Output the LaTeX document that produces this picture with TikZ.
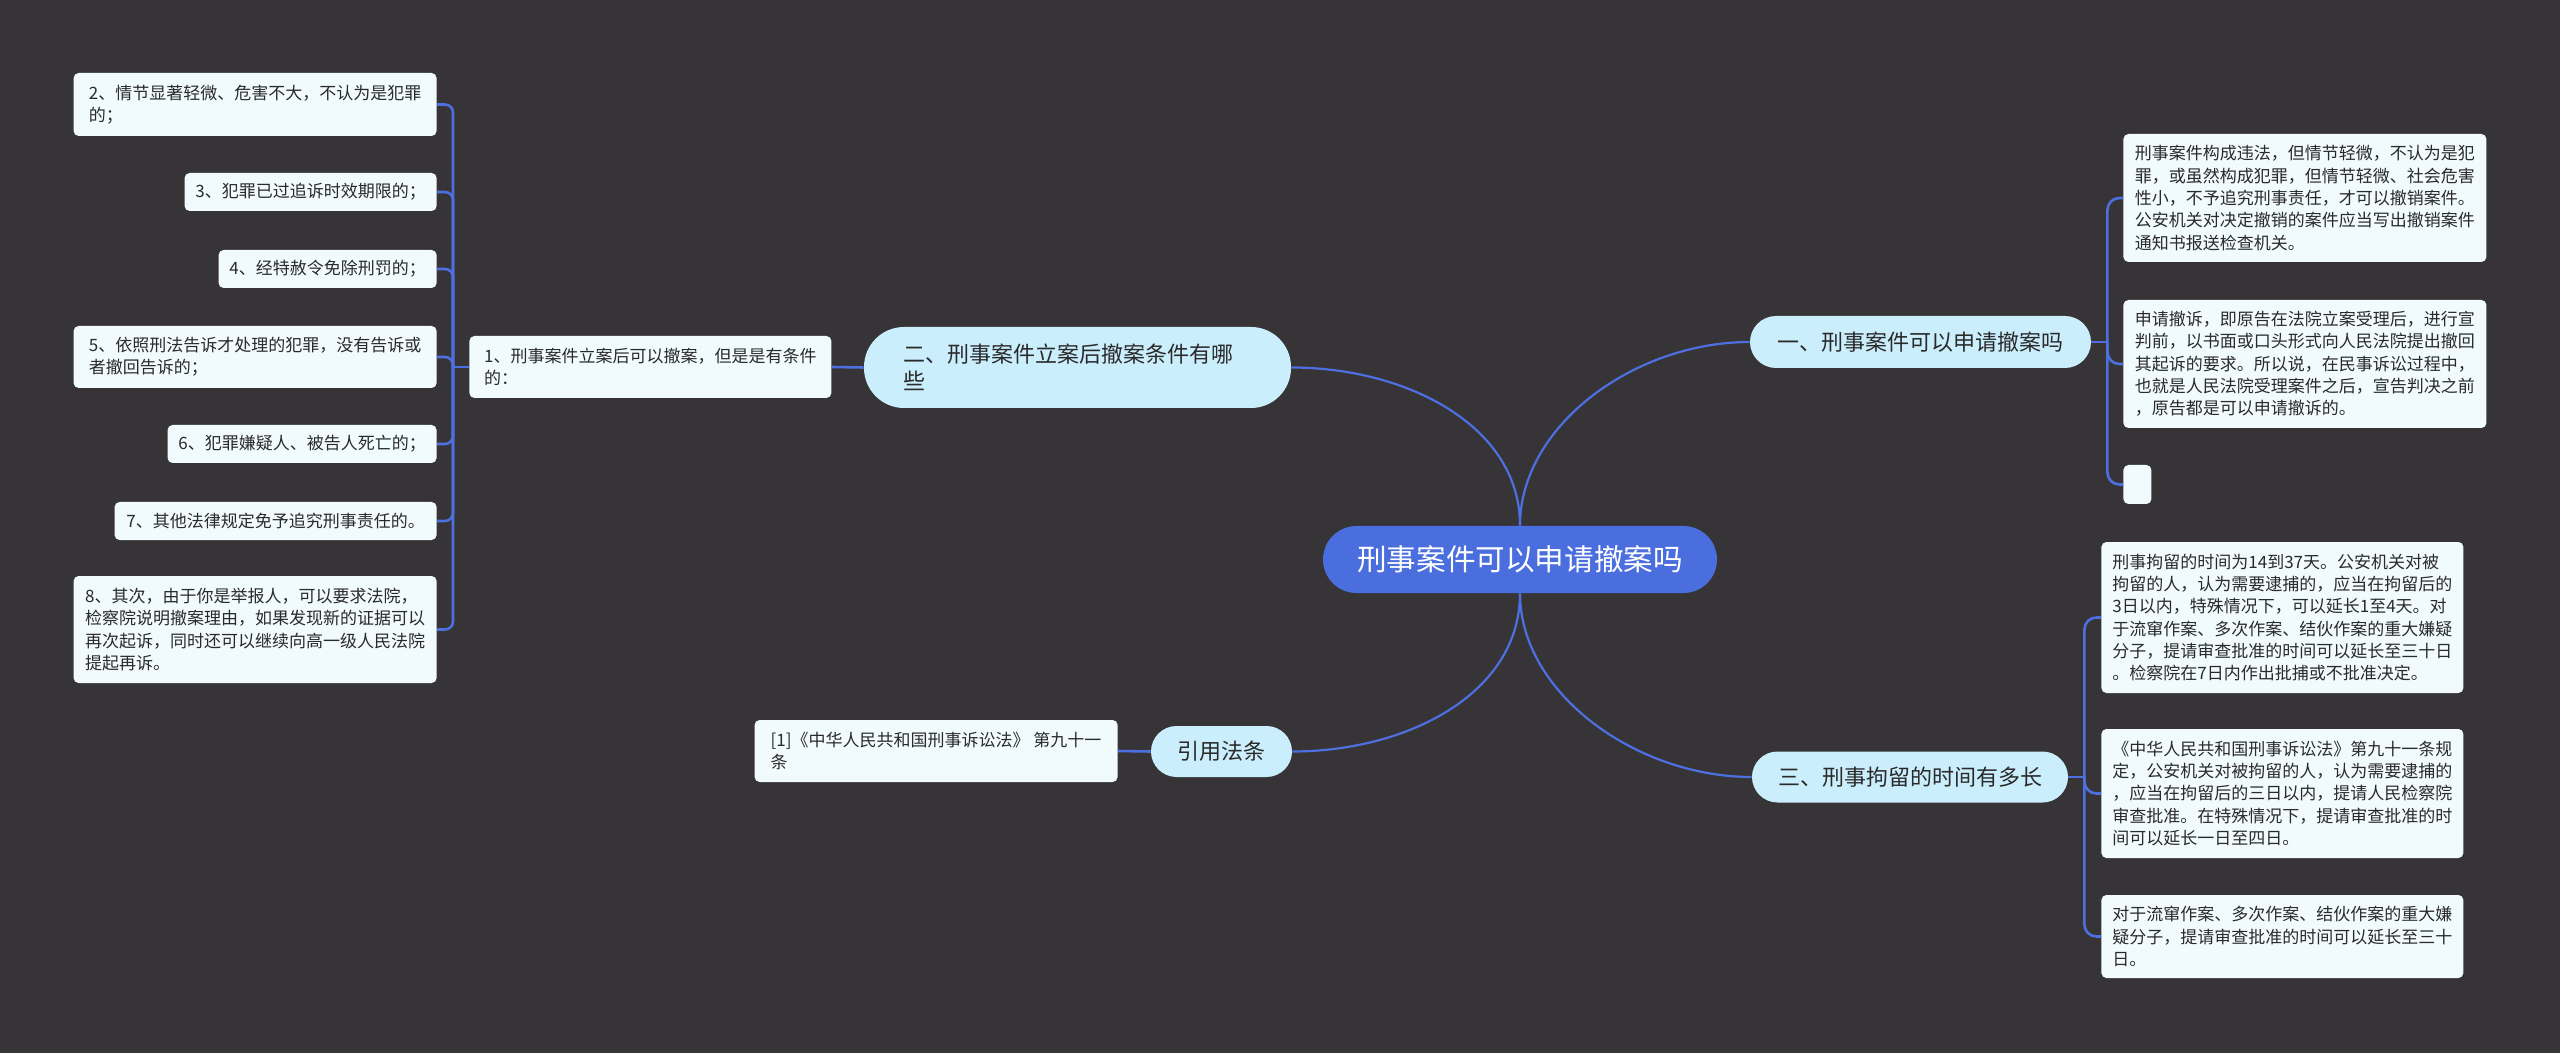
\documentclass[tikz,border=0pt]{standalone}
\usepackage{fontspec}
\setmainfont{Noto Sans CJK SC}
\usetikzlibrary{calc}
\definecolor{bgc}{HTML}{363436}
\definecolor{linec}{HTML}{4D6FDF}
\definecolor{cfill}{HTML}{4A6EDE}
\definecolor{bfill}{HTML}{CBEEFC}
\definecolor{lfill}{HTML}{F1FBFD}
\definecolor{tdark}{HTML}{2A2A2A}
\begin{document}
\begin{tikzpicture}[x=0.5pt,y=-0.5pt,
  central/.style={fill=cfill,text=white,rounded corners=16.75pt,inner sep=0pt,
    font=\fontsize{14.8pt}{18pt}\selectfont},
  branch/.style={fill=bfill,text=tdark,inner sep=0pt,
    font=\fontsize{11pt}{13.5pt}\selectfont},
  leaf/.style={fill=lfill,text=tdark,rounded corners=2.5pt,inner xsep=3pt,inner ysep=0pt,
    align=left,font=\fontsize{8.5pt}{11.15pt}\selectfont},
  conn/.style={draw=linec,line width=1.1pt},
  brk/.style={draw=linec,line width=1.3pt}
]
\fill[bgc] (0,0) rectangle (2560,1053);
\useasboundingbox (0,0) rectangle (2560,1053);

% central and main branches
\node[central,minimum width=197pt,minimum height=33.5pt] (c) at (1520,559.5) {刑事案件可以申请撤案吗};
\node[branch,rounded corners=13pt,minimum width=170.5pt,minimum height=26pt] (bA) at (1920.5,342) {一、刑事案件可以申请撤案吗};
\node[branch,rounded corners=12.75pt,minimum width=158pt,minimum height=25.5pt] (bC) at (1910,777) {三、刑事拘留的时间有多长};
\node[branch,rounded corners=20pt,text width=174pt,align=left,inner xsep=19.75pt,minimum height=40.5pt] (bB) at (1077.5,367.5) {二、刑事案件立案后撤案条件有哪\\些};
\node[branch,rounded corners=12.75pt,minimum width=70.5pt,minimum height=25.5pt] (bD) at (1221.5,751.5) {引用法条};

% left leaves
\node[leaf,anchor=west,minimum width=181pt,minimum height=31pt] (m1) at (469,367) {1、刑事案件立案后可以撤案，但是是有条件\\的：};
\node[leaf,anchor=east,minimum width=181.5pt,minimum height=31.5pt] (l2) at (437,104.5) {2、情节显著轻微、危害不大，不认为是犯罪\\的；};
\node[leaf,anchor=east,minimum width=126pt,minimum height=19pt] (l3) at (437,192) {3、犯罪已过追诉时效期限的；};
\node[leaf,anchor=east,minimum width=109pt,minimum height=19pt] (l4) at (437,269) {4、经特赦令免除刑罚的；};
\node[leaf,anchor=east,minimum width=181.5pt,minimum height=31pt] (l5) at (437,357) {5、依照刑法告诉才处理的犯罪，没有告诉或\\者撤回告诉的；};
\node[leaf,anchor=east,minimum width=134.5pt,minimum height=19pt] (l6) at (437,444) {6、犯罪嫌疑人、被告人死亡的；};
\node[leaf,anchor=east,minimum width=161pt,minimum height=19pt] (l7) at (437,521) {7、其他法律规定免予追究刑事责任的。};
\node[leaf,anchor=east,minimum width=181.5pt,minimum height=53.5pt] (l8) at (437,629.5) {8、其次，由于你是举报人，可以要求法院，\\检察院说明撤案理由，如果发现新的证据可以\\再次起诉，同时还可以继续向高一级人民法院\\提起再诉。};
\node[leaf,anchor=east,minimum width=181.5pt,minimum height=31pt] (q1) at (1118,751) {[1]《中华人民共和国刑事诉讼法》 第九十一\\条};

% right leaves
\node[leaf,anchor=west,minimum width=181.5pt,minimum height=64pt] (r1) at (2123,198) {刑事案件构成违法，但情节轻微，不认为是犯\\罪，或虽然构成犯罪，但情节轻微、社会危害\\性小，不予追究刑事责任，才可以撤销案件。\\公安机关对决定撤销的案件应当写出撤销案件\\通知书报送检查机关。};
\node[leaf,anchor=west,minimum width=181.5pt,minimum height=64pt] (r2) at (2123,364) {申请撤诉，即原告在法院立案受理后，进行宣\\判前，以书面或口头形式向人民法院提出撤回\\其起诉的要求。所以说，在民事诉讼过程中，\\也就是人民法院受理案件之后，宣告判决之前\\，原告都是可以申请撤诉的。};
\node[leaf,anchor=west,minimum width=14pt,minimum height=19.5pt,inner xsep=0pt] (r3) at (2123,484.5) {};
\node[leaf,anchor=west,minimum width=181pt,minimum height=75.5pt] (k1) at (2101,617.5) {刑事拘留的时间为14到37天。公安机关对被\\拘留的人，认为需要逮捕的，应当在拘留后的\\3日以内，特殊情况下，可以延长1至4天。对\\于流窜作案、多次作案、结伙作案的重大嫌疑\\分子，提请审查批准的时间可以延长至三十日\\。检察院在7日内作出批捕或不批准决定。};
\node[leaf,anchor=west,minimum width=181pt,minimum height=64.5pt] (k2) at (2101,793.5) {《中华人民共和国刑事诉讼法》第九十一条规\\定，公安机关对被拘留的人，认为需要逮捕的\\，应当在拘留后的三日以内，提请人民检察院\\审查批准。在特殊情况下，提请审查批准的时\\间可以延长一日至四日。};
\node[leaf,anchor=west,minimum width=181pt,minimum height=41.5pt] (k3) at (2101,936.5) {对于流窜作案、多次作案、结伙作案的重大嫌\\疑分子，提请审查批准的时间可以延长至三十\\日。};

% main connectors
\draw[conn] (c.north) .. controls ($(c.north)+(0,-100)$) and ($(bB.east)+(115,0)$) .. (bB.east);
\draw[conn] (c.north) .. controls ($(c.north)+(0,-100)$) and ($(bA.west)+(-115,0)$) .. (bA.west);
\draw[conn] (c.south) .. controls ($(c.south)+(0,100)$) and ($(bD.east)+(115,0)$) .. (bD.east);
\draw[conn] (c.south) .. controls ($(c.south)+(0,100)$) and ($(bC.west)+(-115,0)$) .. (bC.west);

% straight links
\draw[brk] (bB.west) -- (m1.east);
\draw[brk] (bD.west) -- (q1.east);

% left bracket
\coordinate (jL) at ($(m1.west)+(-16,0)$);
\draw[brk] (m1.west) -- (jL);
\foreach \n in {l2,l3,l4,l5,l6,l7,l8}
  \draw[brk,rounded corners=4pt] (jL) |- (\n.east);

% right brackets
\coordinate (jA) at ($(bA.east)+(16,0)$);
\draw[brk] (bA.east) -- (jA);
\foreach \n in {r1,r2,r3}
  \draw[brk,rounded corners=6pt] (jA) |- (\n.west);

\coordinate (jC) at ($(bC.east)+(16,0)$);
\draw[brk] (bC.east) -- (jC);
\foreach \n in {k1,k2,k3}
  \draw[brk,rounded corners=6pt] (jC) |- (\n.west);
\end{tikzpicture}
\end{document}
